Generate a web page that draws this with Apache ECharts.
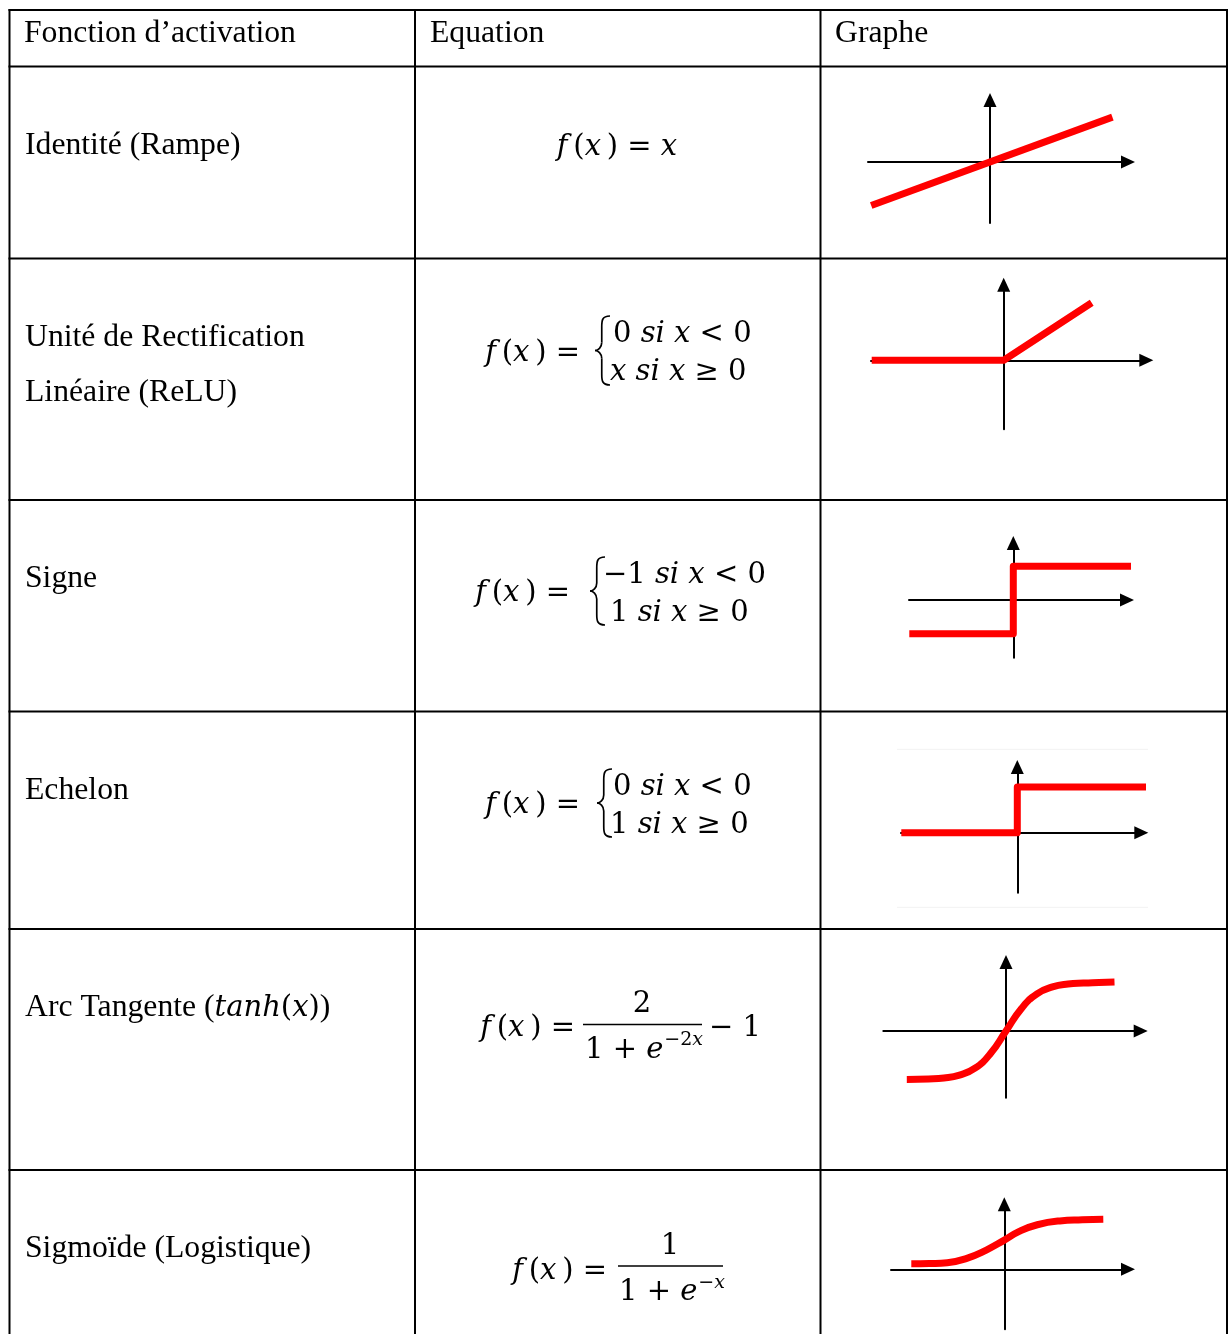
<!DOCTYPE html>
<html><head><meta charset="utf-8">
<script src="https://cdn.jsdelivr.net/npm/echarts@6/dist/echarts.min.js"></script>
<style>html,body{margin:0;padding:0;background:#fff}#c{width:1228px;height:1334px}</style>
</head><body><div id="c"></div>
<script>
// ---------- data ----------
const headers = ['Fonction d’activation', 'Equation', 'Graphe'];
const functionNames = ['Identité (Rampe)', 'Unité de Rectification', 'Linéaire (ReLU)', 'Signe', 'Echelon', 'Sigmoïde (Logistique)'];
const identityX = [-3.3, 3.4];
const identityY = [-3.3, 3.4];
const reluX = [-1.5, 0, 1];
const reluY = [0, 0, 1];
const signX = [-2, 0, 0, 2.28];
const signY = [-1, -1, 1, 1];
const stepX = [-2, 0, 0, 2.23];
const stepY = [0, 0, 1, 1];
const tanhX = [-3.2, -2.5, -2, -1.5, -1, -0.5, 0, 0.5, 1, 1.5, 2, 2.5, 3, 3.5];
const tanhY = [-0.99, -0.98, -0.96, -0.9, -0.76, -0.46, 0, 0.46, 0.76, 0.9, 0.96, 0.98, 0.99, 1.0];
const sigmoidX = [-3.1, -2.5, -1.9, -1.25, -0.6, 0, 0.5, 1.1, 1.85, 2.6, 3.3];
const sigmoidY = [0.1, 0.105, 0.12, 0.2, 0.35, 0.53, 0.69, 0.81, 0.88, 0.9, 0.91];

// ---------- layout / style ----------
const TF = 'Liberation Serif', TS = 31.7;
const MF = 'DejaVu Serif', MS = 29, SS = 19;
const ARROW = [13, 14];
const AH = ARROW[1] / 2; // half arrow length
const rowY = [10, 66.5, 258.5, 500, 711.5, 929, 1170];
const colX = [9.5, 415, 820.5, 1227];

const graphs = [
  {ox: 990, oy: 162, ux: 36, uy: 13.2, l: 868, r: 1135, t: 93, b: 223, xs: identityX, ys: identityY},
  {ox: 1003.7, oy: 360.3, ux: 88, uy: 57.6, l: 871, r: 1153.3, t: 277.7, b: 429.3, xs: reluX, ys: reluY},
  {ox: 1013.3, oy: 600, ux: 52, uy: 33.65, l: 909, r: 1134, t: 536, b: 657.7, xs: signX, ys: signY},
  {ox: 1017.3, oy: 832.7, ux: 58, uy: 45.7, l: 901, r: 1148.3, t: 760, b: 892.7, xs: stepX, ys: stepY},
  {ox: 1006, oy: 1031, ux: 31, uy: 49, l: 883.3, r: 1147.7, t: 955, b: 1097.7, xs: tanhX, ys: tanhY, smooth: true},
  {ox: 1004.3, oy: 1269.3, ux: 30, uy: 55, l: 891, r: 1135, t: 1197.3, b: 1329.3, xs: sigmoidX, ys: sigmoidY, smooth: true}
];

const grid = [], xAxis = [], yAxis = [], series = [];
const axisCommon = {
  axisLine: {show: true, onZero: true, symbol: ['none', 'triangle'], symbolSize: ARROW,
    lineStyle: {color: '#000', width: 2}},
  axisTick: {show: false}, axisLabel: {show: false}, splitLine: {show: false}
};
graphs.forEach((g, i) => {
  const top = g.t + AH, right = g.r - AH;
  grid.push({left: g.l, top: top, width: right - g.l, height: g.b - top, outerBoundsMode: 'none', containLabel: false});
  xAxis.push(Object.assign({gridIndex: i, type: 'value', min: (g.l - g.ox) / g.ux, max: (right - g.ox) / g.ux}, axisCommon));
  yAxis.push(Object.assign({gridIndex: i, type: 'value', min: -(g.b - g.oy) / g.uy, max: (g.oy - top) / g.uy}, axisCommon));
  series.push({
    type: 'line', xAxisIndex: i, yAxisIndex: i,
    data: g.xs.map((v, k) => [v, g.ys[k]]),
    symbol: 'none', showSymbol: false, smooth: g.smooth ? 0.5 : false,
    lineStyle: {color: '#ff0000', width: 7, cap: 'butt', join: 'round'},
    clip: false, silent: true, z: 3, animation: false
  });
});

// ---------- graphic helpers ----------
const ctx = document.createElement('canvas').getContext('2d');
function measure(text, font) { ctx.font = font; return ctx.measureText(text).width; }
const G = [];
function line(x1, y1, x2, y2, w, c) {
  G.push({type: 'line', silent: true, shape: {x1, y1, x2, y2}, style: {stroke: c || '#000', lineWidth: w || 2}});
}
function bez(x1, y1, cpx1, cpy1, cpx2, cpy2, x2, y2, w) {
  G.push({type: 'bezierCurve', silent: true, shape: {x1, y1, cpx1, cpy1, cpx2, cpy2, x2, y2},
    style: {stroke: '#000', fill: null, lineWidth: w}});
}
function text(x, y, t, align, font, size, style) {
  G.push({type: 'text', x, y, silent: true, style: {
    text: t, fill: '#000', fontFamily: font || TF, fontSize: size || TS, fontStyle: style || 'normal',
    align: align || 'left', textAlign: align || 'left', verticalAlign: 'middle', textVerticalAlign: 'middle'}});
}
const mr = {fontFamily: MF, fontSize: MS, fontStyle: 'normal', fill: '#000'};
const mi = {fontFamily: MF, fontSize: MS, fontStyle: 'italic', fill: '#000'};
const tr = {fontFamily: TF, fontSize: TS, fontStyle: 'normal', fill: '#000'};
function math(x, y, t, align, size) {
  const s = size || MS;
  G.push({type: 'text', x, y, silent: true, style: {
    text: t, fill: '#000', fontFamily: MF, fontSize: s,
    rich: {r: Object.assign({}, mr, {fontSize: s}), i: Object.assign({}, mi, {fontSize: s}), t: tr},
    align: align || 'left', textAlign: align || 'left', verticalAlign: 'middle', textVerticalAlign: 'middle'}});
}
function brace(xc, yt, yb, w) {
  const ym = (yt + yb) / 2, xm = xc + w * 0.45, xr = xc + w, lw = 1.7;
  bez(xr, yt, xm, yt, xm, yt + 5, xm, yt + 11, lw);
  line(xm, yt + 11, xm, ym - 8, lw);
  bez(xm, ym - 8, xm, ym - 3, xc + w * 0.2, ym, xc, ym, lw);
  bez(xc, ym, xc + w * 0.2, ym, xm, ym + 3, xm, ym + 8, lw);
  line(xm, ym + 8, xm, yb - 11, lw);
  bez(xm, yb - 11, xm, yb - 5, xm, yb, xr, yb, lw);
}
const TH = '\u2009';
const FXB = '{i|f' + TH + '}{r|(}{i|x' + TH + '}{r|)}';
const FX = FXB + '{r| =}';
const DY = 3; // text vertical nudge

// table lines
rowY.forEach(y => line(8.5, y, 1228, y, 2));
colX.forEach(x => line(x, 9, x, 1334, 2));
// faint frame of the step picture
line(897, 749.3, 1148, 749.3, 1, '#f2f2f2');
line(897, 907.3, 1148, 907.3, 1, '#f2f2f2');

// headers
text(24, 31 + DY, headers[0]);
text(430, 31 + DY, headers[1]);
text(835, 31 + DY, headers[2]);
// function names
text(25, 143 + DY, functionNames[0]);
text(25, 335 + DY, functionNames[1]);
text(25, 390 + DY, functionNames[2]);
text(25, 576 + DY, functionNames[3]);
text(25, 788 + DY, functionNames[4]);
G.push({type: 'text', x: 25, y: 1005 + DY, silent: true, style: {
  text: '{t|Arc Tangente (}{i|tanh}{r|(}{i|x}{r|)}{t|)}', fill: '#000', fontFamily: TF, fontSize: TS,
  rich: {t: tr, i: mi, r: mr}, align: 'left', textAlign: 'left', verticalAlign: 'middle', textVerticalAlign: 'middle'}});
text(25, 1246 + DY, functionNames[5]);

// equations
math(617, 144 + DY, FXB + '{r| = }{i|x}', 'center');

math(580, 350 + DY, FX, 'right');
brace(595, 316, 385, 15);
math(613, 331 + DY, '{r|0 }{i|si x}{r| < 0}');
math(610, 369 + DY, '{i|x si x}{r| ≥ 0}');

math(570, 590 + DY, FX, 'right');
brace(590, 557, 625, 15);
math(603, 572 + DY, '{r|−1 }{i|si x}{r| < 0}');
math(610, 610 + DY, '{r|1 }{i|si x}{r| ≥ 0}');

math(580, 802 + DY, FX, 'right');
brace(597, 769, 837, 15);
math(613, 784 + DY, '{r|0 }{i|si x}{r| < 0}');
math(610, 822 + DY, '{r|1 }{i|si x}{r| ≥ 0}');

// tanh
math(575, 1025 + DY, FX, 'right');
math(642, 1001 + DY, '{r|2}', 'center');
line(583, 1024.5, 702, 1024.5, 1.5);
const w5 = measure('1 + ', `${MS}px "${MF}"`) + measure('e', `italic ${MS}px "${MF}"`);
math(585, 1047 + DY, '{r|1 + }{i|e}');
math(585 + w5 + 1, 1037 + DY, '{r|−2}{i|x}', 'left', SS);
math(709, 1025 + DY, '{r|− 1}');

// sigmoid
math(607, 1268 + DY, FX, 'right');
math(670, 1243 + DY, '{r|1}', 'center');
line(618, 1266, 723, 1266, 1.5);
math(619, 1289 + DY, '{r|1 + }{i|e}');
math(619 + w5 + 1, 1280 + DY, '{r|−}{i|x}', 'left', SS);

const chart = echarts.init(document.getElementById('c'), null, {renderer: 'canvas', width: 1228, height: 1334});
chart.setOption({
  animation: false,
  backgroundColor: '#fff',
  grid, xAxis, yAxis, series,
  graphic: {elements: G}
});
</script></body></html>
